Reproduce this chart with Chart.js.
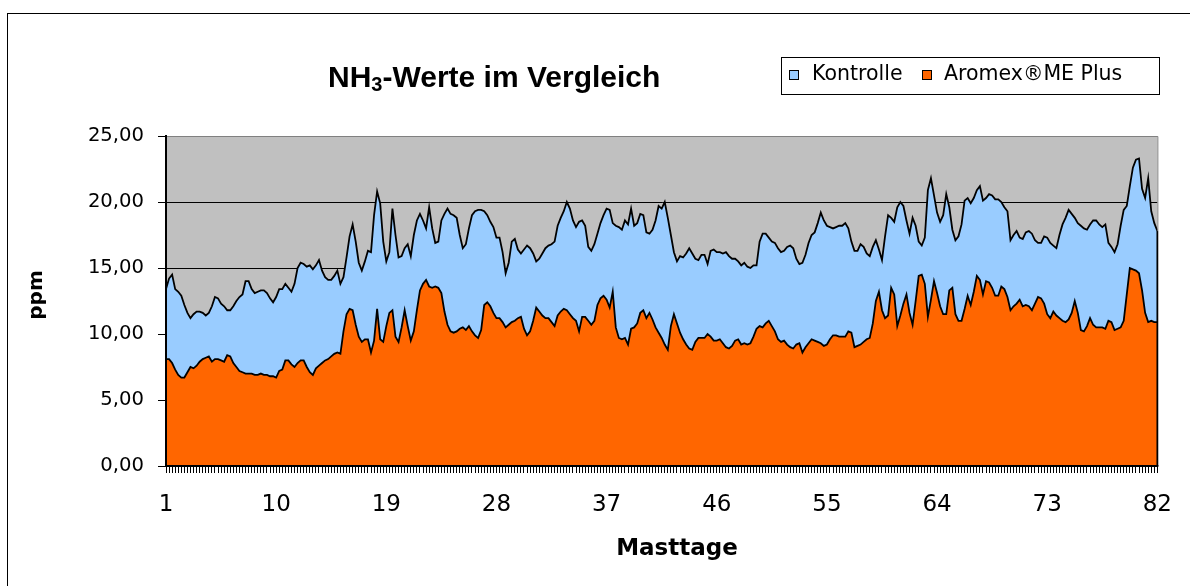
<!DOCTYPE html>
<html>
<head>
<meta charset="utf-8">
<script src="https://cdn.jsdelivr.net/npm/chart.js@4.4.1/dist/chart.umd.min.js"></script>
<style>
  html, body { margin: 0; padding: 0; background: #fff; }
  #c { display: block; }
</style>
</head>
<body>
<canvas id="c" width="1190" height="586"></canvas>
<script>
// ---- Data ----
const seriesNames = ['Kontrolle', 'Aromex®ME Plus'];
const xTickLabels = ['1', '10', '19', '28', '37', '46', '55', '64', '73', '82'];
const yTickValues = [0, 5, 10, 15, 20, 25];
const pointsPerDay = 4;
const dayCount = 82;

const kontrolle = [
  13.4,14.2,14.5,13.4,13.2,12.9,12.2,11.6,11.2,11.5,
  11.7,11.7,11.6,11.4,11.6,12.1,12.8,12.7,12.3,12.1,
  11.8,11.8,12.1,12.5,12.8,13.0,14.0,14.0,13.4,13.1,
  13.2,13.3,13.3,13.1,12.7,12.4,12.8,13.4,13.4,13.8,
  13.5,13.2,13.8,15.0,15.4,15.3,15.1,15.2,14.9,15.2,
  15.6,14.8,14.3,14.1,14.1,14.4,14.8,13.8,14.3,15.8,
  17.4,18.3,17.0,15.4,14.8,15.5,16.3,16.2,19.0,20.8,
  19.9,17.0,15.5,16.2,19.5,17.5,15.8,15.9,16.5,16.8,
  15.9,17.5,18.6,19.1,18.6,18.0,19.6,18.0,16.9,17.0,
  18.6,19.1,19.5,19.1,19.0,18.8,17.5,16.5,16.8,18.0,
  19.0,19.3,19.4,19.4,19.3,19.0,18.5,18.1,17.3,17.3,
  16.2,14.6,15.4,17.0,17.2,16.4,16.1,16.4,16.7,16.5,
  16.1,15.5,15.7,16.1,16.5,16.7,16.8,17.0,18.2,18.8,
  19.3,20.0,19.5,18.6,18.1,18.5,18.6,18.2,16.6,16.3,
  16.8,17.6,18.4,19.0,19.5,19.4,18.4,18.2,18.1,17.9,
  18.6,18.3,19.5,18.2,18.4,19.1,19.0,17.7,17.6,17.9,
  18.6,19.7,19.5,20.0,18.8,17.5,16.2,15.5,15.9,15.8,
  16.1,16.5,16.1,15.7,15.6,16.0,16.0,15.3,16.3,16.4,
  16.2,16.2,16.1,16.2,15.9,15.7,15.7,15.5,15.2,15.4,
  15.1,15.0,15.2,15.2,17.0,17.6,17.6,17.3,17.0,16.9,
  16.5,16.2,16.3,16.6,16.7,16.5,15.7,15.3,15.4,16.0,
  16.9,17.5,17.7,18.4,19.2,18.6,18.2,18.1,18.0,18.1,
  18.2,18.2,18.4,18.0,17.0,16.3,16.3,16.8,16.6,16.1,
  15.9,16.6,17.1,16.4,15.6,17.4,19.0,18.8,18.5,19.6,
  20.0,19.7,18.6,17.6,18.8,18.2,17.0,16.7,17.3,20.9,
  21.8,20.5,19.2,18.5,19.0,20.6,19.6,17.9,17.1,17.4,
  18.3,20.1,20.3,19.9,20.3,20.9,21.2,20.1,20.3,20.6,
  20.5,20.2,20.2,20.0,19.6,19.3,17.1,17.5,17.8,17.3,
  17.2,17.7,17.8,17.6,17.1,16.9,16.9,17.4,17.3,16.9,
  16.7,16.5,17.5,18.3,18.8,19.4,19.1,18.8,18.4,18.2,
  18.0,17.9,18.3,18.6,18.6,18.3,18.1,18.3,16.9,16.6,
  16.2,16.8,18.2,19.4,19.7,21.2,22.6,23.2,23.3,21.0,
  20.3,21.8,19.3,18.4,17.8
];

const aromex = [
  8.1,8.1,7.8,7.3,6.9,6.7,6.7,7.1,7.5,7.4,
  7.6,7.9,8.1,8.2,8.3,7.9,8.1,8.1,8.0,7.9,
  8.4,8.3,7.8,7.5,7.2,7.1,7.0,7.0,7.0,6.9,
  6.9,7.0,6.9,6.9,6.8,6.8,6.7,7.2,7.3,8.0,
  8.0,7.7,7.5,7.8,8.0,8.0,7.5,7.1,6.9,7.4,
  7.6,7.8,8.0,8.1,8.3,8.5,8.6,8.5,10.2,11.5,
  11.9,11.8,10.7,9.8,9.4,9.6,9.6,8.6,9.5,11.9,
  9.6,9.4,10.6,11.6,11.8,9.8,9.4,10.5,11.8,10.6,
  9.5,10.2,11.8,13.3,13.8,14.1,13.6,13.5,13.6,13.5,
  13.1,11.7,10.7,10.2,10.1,10.2,10.4,10.5,10.3,10.6,
  10.2,9.9,9.7,10.3,12.2,12.4,12.1,11.6,11.2,11.2,
  10.9,10.5,10.7,10.9,11.0,11.2,11.3,10.4,9.9,10.2,
  11.0,12.0,11.7,11.4,11.2,11.2,10.9,10.6,11.4,11.7,
  11.9,11.8,11.5,11.2,11.0,10.2,11.3,11.3,11.0,10.7,
  11.0,12.2,12.7,12.9,12.6,12.0,13.2,10.5,9.7,9.6,
  9.7,9.2,10.4,10.5,10.8,11.6,11.8,11.2,11.6,11.1,
  10.5,10.1,9.7,9.2,8.8,10.6,11.5,10.8,10.1,9.6,
  9.2,8.9,8.8,9.4,9.7,9.7,9.7,10.0,9.8,9.5,
  9.5,9.6,9.3,9.0,8.9,9.1,9.5,9.6,9.2,9.3,
  9.2,9.3,9.8,10.4,10.6,10.5,10.8,11.0,10.6,10.2,
  9.6,9.4,9.5,9.2,9.0,8.9,9.2,9.3,8.6,9.0,
  9.3,9.6,9.5,9.4,9.3,9.1,9.2,9.6,9.9,9.9,
  9.8,9.8,9.8,10.2,10.1,9.0,9.1,9.2,9.4,9.6,
  9.7,10.8,12.5,13.2,11.8,11.2,11.4,13.5,13.0,10.6,
  11.4,12.3,13.0,11.6,10.7,12.5,14.4,14.5,13.8,11.3,
  12.6,14.0,13.1,12.1,11.5,11.5,13.3,13.5,11.5,11.0,
  11.0,11.9,12.9,12.2,13.2,14.4,14.1,13.0,14.0,13.9,
  13.5,12.9,12.9,13.6,13.4,12.8,11.8,12.1,12.3,12.6,
  12.1,12.2,12.1,11.8,12.3,12.8,12.7,12.3,11.5,11.2,
  11.7,11.4,11.2,11.0,10.9,11.1,11.6,12.5,11.6,10.3,
  10.2,10.6,11.2,10.7,10.5,10.5,10.5,10.4,11.0,10.9,
  10.3,10.4,10.5,11.0,13.0,15.0,14.9,14.8,14.6,13.3,
  11.6,10.9,11.0,10.9,10.9
];

// categories: four measurements per day, labelled with the day number
const categories = kontrolle.map((_, i) => String(Math.floor(i / pointsPerDay) + 1));

// ---- Styles ----
const COL_BLUE = '#99CCFF';
const COL_ORANGE = '#FF6600';
const COL_PLOT = '#C0C0C0';
const FONT_LABEL = '"DejaVu Sans", "Liberation Sans", Arial, sans-serif';
const FONT_TITLE = '"Liberation Sans", Arial, sans-serif';

const decorPlugin = {
  id: 'decor',
  beforeDraw(chart) {
    const { ctx, chartArea: a } = chart;
    ctx.save();
    ctx.fillStyle = '#fff';
    ctx.fillRect(0, 0, chart.width, chart.height);
    ctx.fillStyle = COL_PLOT;
    ctx.fillRect(a.left, a.top, a.right - a.left, a.bottom - a.top);
    ctx.restore();
  },
  afterDatasetsDraw(chart) {
    const { ctx, chartArea: a, scales } = chart;
    const yLast = scales.y.getPixelForValue(kontrolle[kontrolle.length - 1]);
    ctx.save();
    ctx.strokeStyle = '#808080';
    ctx.lineWidth = 1;
    ctx.beginPath();
    ctx.moveTo(a.left, a.top + 0.5);
    ctx.lineTo(a.right + 0.5, a.top + 0.5);
    ctx.lineTo(a.right + 0.5, yLast);
    ctx.stroke();
    ctx.strokeStyle = '#000';
    ctx.lineWidth = 1.8;
    ctx.beginPath();
    ctx.moveTo(a.right, yLast);
    ctx.lineTo(a.right, a.bottom);
    ctx.stroke();
    ctx.lineWidth = 2;
    ctx.beginPath();
    ctx.moveTo(a.left, a.top);
    ctx.lineTo(a.left, a.bottom);
    ctx.lineTo(a.right + 1, a.bottom);
    ctx.stroke();
    ctx.restore();
  },
  afterDraw(chart) {
    const ctx = chart.ctx;
    ctx.save();
    ctx.strokeStyle = '#000';
    ctx.lineWidth = 1;
    ctx.strokeRect(7.5, 13.5, 1400, 800);

    ctx.fillStyle = '#000';
    ctx.textBaseline = 'alphabetic';
    ctx.textAlign = 'left';
    let x = 328;
    ctx.font = 'bold 30px ' + FONT_TITLE;
    ctx.fillText('NH', x, 87);
    x += ctx.measureText('NH').width;
    ctx.font = 'bold 20px ' + FONT_TITLE;
    ctx.fillText('3', x, 91);
    x += ctx.measureText('3').width;
    ctx.font = 'bold 30px ' + FONT_TITLE;
    ctx.fillText('-Werte im Vergleich', x, 87);

    ctx.fillStyle = '#fff';
    ctx.fillRect(781, 57, 378, 37);
    ctx.strokeStyle = '#000';
    ctx.lineWidth = 1;
    ctx.strokeRect(781.5, 57.5, 378, 37);
    const legendItems = [
      { name: seriesNames[0], color: COL_BLUE, box: 789, text: 812 },
      { name: seriesNames[1], color: COL_ORANGE, box: 922, text: 944 }
    ];
    ctx.font = '20.5px ' + FONT_LABEL;
    legendItems.forEach(it => {
      ctx.fillStyle = it.color;
      ctx.fillRect(it.box + 0.5, 70.5, 9, 9);
      ctx.strokeStyle = '#000';
      ctx.strokeRect(it.box + 0.5, 70.5, 9, 9);
      ctx.fillStyle = '#000';
      ctx.fillText(it.name, it.text, 80);
    });

    ctx.font = 'bold 23px ' + FONT_LABEL;
    ctx.textAlign = 'center';
    ctx.fillText('Masttage', 677, 555);
    ctx.translate(42, 295);
    ctx.rotate(-Math.PI / 2);
    ctx.font = 'bold 20px ' + FONT_LABEL;
    ctx.fillText('ppm', 0, 0);
    ctx.restore();
  }
};

new Chart(document.getElementById('c'), {
  type: 'line',
  data: {
    labels: categories,
    datasets: [
      {
        label: seriesNames[0],
        data: kontrolle,
        backgroundColor: COL_BLUE,
        borderColor: '#000',
        borderWidth: 1.8,
        fill: 'origin',
        pointRadius: 0,
        tension: 0,
        order: 1
      },
      {
        label: seriesNames[1],
        data: aromex,
        backgroundColor: COL_ORANGE,
        borderColor: '#000',
        borderWidth: 1.8,
        fill: 'origin',
        pointRadius: 0,
        tension: 0,
        order: 0
      }
    ]
  },
  options: {
    responsive: false,
    animation: false,
    devicePixelRatio: 1,
    layout: { padding: { left: 0, top: 136, right: 30, bottom: 0 } },
    plugins: {
      legend: { display: false },
      title: { display: false },
      tooltip: { enabled: false }
    },
    scales: {
      x: {
        type: 'category',
        offset: false,
        grid: {
          display: true,
          drawOnChartArea: false,
          drawTicks: true,
          tickLength: 7,
          color: '#000',
          tickColor: '#000',
          lineWidth: 1
        },
        border: { display: true, color: '#000', width: 2 },
        ticks: {
          autoSkip: false,
          maxRotation: 0,
          minRotation: 0,
          padding: 18,
          color: '#000',
          font: { family: FONT_LABEL, size: 23 },
          callback: (v, i) => (i % (9 * pointsPerDay) === 0 ? xTickLabels[i / (9 * pointsPerDay)] : '')
        },
        afterFit: s => { s.height = 120; }
      },
      y: {
        min: yTickValues[0],
        max: yTickValues[yTickValues.length - 1],
        afterBuildTicks: s => { s.ticks = yTickValues.map(v => ({ value: v })); },
        grid: {
          color: ctx => (ctx.tick && ctx.tick.value === 25 ? '#808080' : '#000'),
          tickColor: '#000',
          tickLength: 8,
          lineWidth: 1
        },
        border: { display: true, color: '#000', width: 2 },
        ticks: {
          padding: 14,
          color: '#000',
          font: { family: FONT_LABEL, size: 19.6 },
          callback: v => Number(v).toFixed(2).replace('.', ',')
        },
        afterFit: s => { s.width = 166; }
      }
    }
  },
  plugins: [decorPlugin]
});
</script>
</body>
</html>
